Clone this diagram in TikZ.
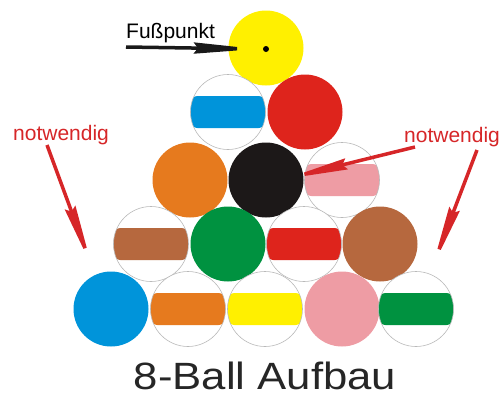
\documentclass[tikz,border=0pt]{standalone}
\usepackage{fontspec}
\setmainfont{Liberation Sans}
\newfontfamily\titlefont[FakeStretch=1.15]{Liberation Sans}
\usetikzlibrary{arrows.meta}
\definecolor{ballyellow}{RGB}{255,240,0}
\definecolor{ballred}{RGB}{222,36,28}
\definecolor{ballblue}{RGB}{0,148,218}
\definecolor{ballorange}{RGB}{230,122,30}
\definecolor{ballblack}{RGB}{28,24,24}
\definecolor{ballpink}{RGB}{238,156,164}
\definecolor{ballbrown}{RGB}{182,104,62}
\definecolor{ballgreen}{RGB}{0,146,64}
\definecolor{notered}{RGB}{214,38,40}

\begin{document}
\begin{tikzpicture}[x=1pt,y=-1pt]
				\tikzstyle{ball}=[circle,minimum size=75pt,inner sep=0pt]
				\tikzstyle{needle}=[line width=3.5pt,-{Stealth[length=63pt,width=11pt,inset=4pt]}]
				\tikzstyle{tag}=[inner sep=0pt,font=\fontsize{21}{21}\selectfont]
				\tikzset{plain/.style={ball,fill=#1},
					striped/.style={ball,draw=gray!55,line width=0.6pt,fill=white,
						path picture={\fill[#1,rounded corners=7pt] ([yshift=-16pt]path picture bounding box.west) rectangle ([yshift=16pt]path picture bounding box.east);}}}
				\useasboundingbox (0,0) rectangle (499,397);
				% rack, top to bottom
				\node[plain=ballyellow] (b1) at (266,48) {};
				\node[striped=ballblue] (b10) at (228,112) {};
				\node[plain=ballred] (b3) at (305,112) {};
				\node[plain=ballorange] (b5) at (190,180) {};
				\node[plain=ballblack] (b8) at (266,180) {};
				\node[striped=ballpink] (b12) at (342,180) {};
				\node[striped=ballbrown] (b15) at (151,244) {};
				\node[plain=ballgreen] (b6) at (228,244) {};
				\node[striped=ballred] (b11) at (304,244) {};
				\node[plain=ballbrown] (b7) at (380,244) {};
				\node[plain=ballblue] (b2) at (111,309) {};
				\node[striped=ballorange] (b13) at (188,309) {};
				\node[striped=ballyellow] (b9) at (265,309) {};
				\node[plain=ballpink] (b4) at (342,309) {};
				\node[striped=ballgreen] (b14) at (416,309) {};
				\fill[black] (266,49) circle (3pt) coordinate (spot);

				\node[tag,anchor=base west] (fuss) at (126,38) {Fußpunkt};
				\node[tag,anchor=base west,text=notered] (notl) at (13,140) {notwendig};
				\node[tag,anchor=base west,text=notered] (notr) at (404,142) {notwendig};
				\node[inner sep=0pt,text depth=0pt,anchor=base,text=black!85,font=\titlefont\fontsize{38}{38}\selectfont] (title) at (265,389) {8-Ball Aufbau};

				\coordinate (fstart) at (126,47);
				\coordinate (lstart) at (47,145);
				\coordinate (ltip) at (92,267);
				\coordinate (mstart) at (415,147);
				\coordinate (mtip) at (285,179);
				\coordinate (rstart) at (477,150);
				\coordinate (rtip) at (432,268);
				\draw[needle,black!90] (fstart) -- ([xshift=-9pt]spot);
				\draw[needle,notered] (lstart) -- (ltip);
				\draw[needle,notered] (mstart) -- (mtip);
				\draw[needle,notered] (rstart) -- (rtip);
				;\end{tikzpicture}
\end{document}
